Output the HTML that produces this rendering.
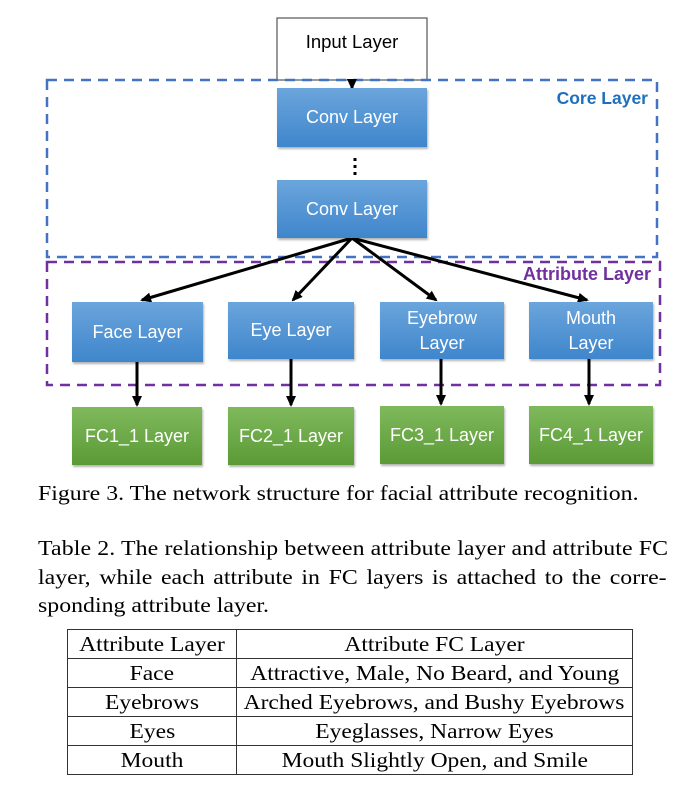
<!DOCTYPE html>
<html><head><meta charset="utf-8"><style>
body{margin:0;background:#fff;width:679px;height:796px;position:relative;overflow:hidden;font-family:"Liberation Serif",serif}
.b{position:absolute;color:#fff;font-family:"Liberation Sans",sans-serif;font-size:18px;display:flex;align-items:center;justify-content:center;text-align:center;line-height:25px;box-shadow:1px 2px 2px rgba(0,0,0,.3)}
.bl{background:linear-gradient(#6ba5dc,#3f86cc)}
.gr{background:linear-gradient(#7fb95c,#5b9a36)}
.t{position:absolute;font-size:21px;color:#000;white-space:nowrap;transform:scaleX(1.135);transform-origin:0 0}
table{position:absolute;left:67px;top:629px;border-collapse:collapse;font-size:21px;width:566px}
td{border:1.5px solid #333;text-align:center;height:28px;padding:0;line-height:26px;white-space:nowrap}
td span{display:inline-block;transform:scaleX(1.12)}
</style></head><body>
<svg width="679" height="480" style="position:absolute;left:0;top:0">
<defs><marker id="a" markerWidth="12" markerHeight="12" refX="9" refY="6" orient="auto" markerUnits="userSpaceOnUse"><path d="M0,1 L11,6 L0,11 z" fill="#000"/></marker></defs>
<rect x="277" y="18" width="150" height="62" fill="#fff" stroke="#333" stroke-width="1"/>
<text x="352" y="48" font-family="Liberation Sans" font-size="18.5" text-anchor="middle">Input Layer</text>
<rect x="47" y="80" width="610" height="177" fill="none" stroke="#4473c4" stroke-width="2.5" stroke-dasharray="10,7"/>
<rect x="47" y="262" width="613" height="123" fill="none" stroke="#7030a0" stroke-width="2.5" stroke-dasharray="10,7"/>
<text x="648" y="104" font-family="Liberation Sans" font-weight="bold" font-size="17.5" fill="#1f6fbf" text-anchor="end">Core Layer</text>
<text x="651" y="280" font-family="Liberation Sans" font-weight="bold" font-size="18" fill="#7030a0" text-anchor="end">Attribute Layer</text>
<line x1="352" y1="80" x2="352" y2="88" stroke="#000" stroke-width="3" marker-end="url(#a)"/>
<line x1="355" y1="158" x2="355" y2="178" stroke="#000" stroke-width="3" stroke-dasharray="3,4"/>
<g stroke="#000" stroke-width="3">
<line x1="352" y1="238" x2="142" y2="300" marker-end="url(#a)"/>
<line x1="352" y1="238" x2="293" y2="300" marker-end="url(#a)"/>
<line x1="352" y1="238" x2="436" y2="300" marker-end="url(#a)"/>
<line x1="352" y1="238" x2="587" y2="300" marker-end="url(#a)"/>
<line x1="137" y1="362" x2="137" y2="405" marker-end="url(#a)"/>
<line x1="291" y1="359" x2="291" y2="405" marker-end="url(#a)"/>
<line x1="441" y1="359" x2="441" y2="404" marker-end="url(#a)"/>
<line x1="589" y1="359" x2="589" y2="404" marker-end="url(#a)"/>
</g>
</svg>
<div class="b bl" style="left:277px;top:88px;width:150px;height:59px">Conv Layer</div>
<div class="b bl" style="left:277px;top:180px;width:150px;height:58px">Conv Layer</div>
<div class="b bl" style="left:72px;top:302px;width:131px;height:60px">Face Layer</div>
<div class="b bl" style="left:228px;top:302px;width:126px;height:57px">Eye Layer</div>
<div class="b bl" style="left:380px;top:302px;width:124px;height:57px">Eyebrow<br>Layer</div>
<div class="b bl" style="left:529px;top:302px;width:124px;height:57px">Mouth<br>Layer</div>
<div class="b gr" style="left:72px;top:407px;width:130px;height:58px">FC1_1 Layer</div>
<div class="b gr" style="left:228px;top:407px;width:126px;height:58px">FC2_1 Layer</div>
<div class="b gr" style="left:380px;top:406px;width:124px;height:58px">FC3_1 Layer</div>
<div class="b gr" style="left:529px;top:406px;width:124px;height:58px">FC4_1 Layer</div>
<div class="t" style="left:38px;top:481px">Figure 3. The network structure for facial attribute recognition.</div>
<div class="t" style="left:38px;top:536px;letter-spacing:0.1px">Table 2. The relationship between attribute layer and attribute FC</div>
<div class="t" style="left:38px;top:565px;word-spacing:2.4px">layer, while each attribute in FC layers is attached to the corre-</div>
<div class="t" style="left:38px;top:593px">sponding attribute layer.</div>
<table>
<tr><td style="width:168px"><span>Attribute Layer</span></td><td><span>Attribute FC Layer</span></td></tr>
<tr><td><span>Face</span></td><td><span>Attractive, Male, No Beard, and Young</span></td></tr>
<tr><td><span>Eyebrows</span></td><td><span>Arched Eyebrows, and Bushy Eyebrows</span></td></tr>
<tr><td><span>Eyes</span></td><td><span>Eyeglasses, Narrow Eyes</span></td></tr>
<tr><td><span>Mouth</span></td><td><span>Mouth Slightly Open, and Smile</span></td></tr>
</table>
</body></html>
